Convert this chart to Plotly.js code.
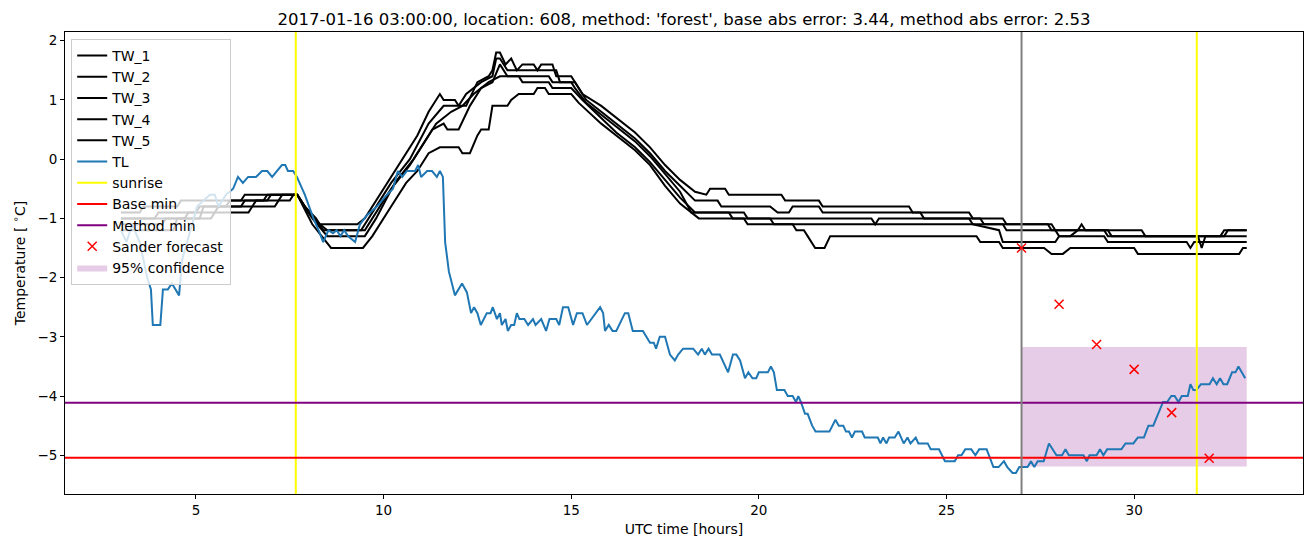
<!DOCTYPE html>
<html>
<head>
<meta charset="utf-8">
<script src="https://cdn.plot.ly/plotly-3.0.1.min.js"></script>
<style>
  html, body { margin: 0; padding: 0; background: #fff; }
  #chart { width: 1313px; height: 547px; }
</style>
</head>
<body>
<div id="chart"></div>
<script>
// TW_1 .. TW_5 sensor readings (hours, degrees C)
var tw1X = [3.0, 3.5, 3.6, 4.5, 4.6, 6.2, 6.3, 7.7, 7.9, 8.2, 8.3, 9.3, 9.5, 10.0, 10.5, 10.9, 11.2, 11.5, 11.6, 11.9, 12.0, 12.2, 12.5, 12.8, 12.9, 13.0, 13.1, 13.25, 13.4, 13.55, 13.7, 14.0, 14.1, 14.2, 14.5, 14.6, 15.0, 15.3, 15.8, 16.2, 16.7, 17.1, 17.5, 17.9, 18.3, 18.6, 18.7, 19.1, 19.2, 20.6, 20.7, 21.6, 21.7, 24.0, 24.1, 25.6, 25.7, 26.5, 26.6, 27.8, 27.9, 29.3, 29.4, 31.7, 31.8, 31.9, 32.3, 32.4, 33.0];
var tw1Y = [-0.9, -0.9, -0.8, -0.8, -0.7, -0.7, -0.6, -0.6, -0.8, -1.0, -1.1, -1.1, -1.0, -0.5, 0.0, 0.4, 0.8, 1.1, 1.0, 1.0, 0.9, 0.9, 1.3, 1.4, 1.5, 1.8, 1.8, 1.6, 1.7, 1.5, 1.6, 1.6, 1.5, 1.6, 1.6, 1.4, 1.4, 1.1, 0.9, 0.7, 0.45, 0.2, -0.1, -0.35, -0.55, -0.6, -0.5, -0.5, -0.6, -0.6, -0.7, -0.7, -0.8, -0.8, -0.9, -0.9, -1.0, -1.0, -1.1, -1.1, -1.2, -1.2, -1.3, -1.3, -1.5, -1.3, -1.3, -1.2, -1.2];

var tw2X = [3.0, 3.9, 4.0, 5.0, 5.1, 5.8, 5.9, 6.8, 6.9, 7.7, 8.0, 8.4, 9.4, 9.6, 10.2, 10.7, 11.2, 11.6, 12.0, 12.2, 12.6, 12.9, 13.0, 13.1, 13.3, 14.6, 14.7, 15.1, 15.4, 15.8, 16.2, 16.7, 17.1, 17.5, 17.9, 18.3, 18.9, 19.0, 20.3, 20.5, 20.8, 20.9, 21.6, 21.7, 24.3, 24.4, 25.9, 26.0, 26.5, 26.6, 27.9, 28.0, 28.3, 28.5, 28.6, 28.7, 30.2, 30.3, 32.4, 32.5, 33.0];
var tw2Y = [-1.0, -1.0, -0.9, -0.9, -0.8, -0.8, -0.7, -0.7, -0.6, -0.6, -0.9, -1.2, -1.2, -1.0, -0.4, 0.0, 0.6, 0.9, 0.9, 1.1, 1.3, 1.4, 1.7, 1.7, 1.5, 1.5, 1.3, 1.3, 1.0, 0.8, 0.6, 0.35, 0.1, -0.2, -0.45, -0.7, -0.7, -0.8, -0.8, -0.9, -0.9, -0.8, -0.8, -0.9, -0.9, -1.0, -1.0, -1.1, -1.1, -1.2, -1.2, -1.3, -1.3, -1.2, -1.1, -1.2, -1.2, -1.3, -1.3, -1.2, -1.2];

var tw3X = [3.0, 4.1, 4.2, 5.1, 5.2, 6.5, 6.6, 7.2, 7.3, 7.7, 8.1, 8.5, 9.5, 9.8, 10.3, 10.8, 11.3, 11.6, 11.7, 12.0, 12.3, 12.6, 12.9, 13.1, 13.3, 14.4, 14.5, 15.0, 15.1, 15.4, 15.8, 16.2, 16.7, 17.1, 17.5, 17.9, 18.2, 19.6, 19.7, 20.3, 20.4, 20.9, 21.0, 21.2, 21.3, 21.4, 21.5, 21.75, 21.9, 25.8, 25.9, 26.4, 26.5, 27.6, 27.8, 28.1, 28.3, 30.0, 30.1, 32.8, 32.9, 33.0];
var tw3Y = [-1.1, -1.1, -1.0, -1.0, -0.8, -0.8, -0.7, -0.7, -0.6, -0.6, -1.0, -1.3, -1.3, -1.0, -0.4, 0.0, 0.5, 0.6, 0.5, 0.5, 0.9, 1.2, 1.3, 1.6, 1.4, 1.4, 1.3, 1.3, 1.2, 0.95, 0.75, 0.55, 0.3, 0.05, -0.25, -0.55, -0.9, -0.9, -1.0, -1.0, -1.1, -1.1, -1.2, -1.2, -1.3, -1.4, -1.5, -1.5, -1.3, -1.3, -1.4, -1.4, -1.5, -1.5, -1.6, -1.6, -1.5, -1.5, -1.6, -1.6, -1.5, -1.5];

var tw4X = [3.0, 4.7, 4.8, 5.5, 5.6, 6.2, 6.3, 6.9, 7.0, 7.7, 8.0, 8.3, 8.5, 9.5, 9.7, 10.2, 10.7, 11.1, 11.4, 11.8, 12.1, 12.4, 12.8, 13.1, 13.6, 13.7, 14.4, 14.5, 15.0, 15.3, 15.8, 16.2, 16.7, 17.1, 17.5, 17.9, 18.3, 19.2, 19.3, 23.0, 23.1, 23.2, 25.6, 25.7, 27.7, 27.8, 29.2, 29.3, 33.0];
var tw4Y = [-1.0, -1.0, -0.9, -0.9, -0.8, -0.8, -0.7, -0.7, -0.6, -0.6, -0.9, -1.1, -1.2, -1.2, -1.0, -0.5, -0.1, 0.3, 0.6, 0.8, 0.9, 1.1, 1.3, 1.4, 1.4, 1.3, 1.3, 1.2, 1.2, 1.0, 0.7, 0.45, 0.2, -0.05, -0.35, -0.65, -0.9, -0.9, -1.0, -1.0, -1.1, -1.0, -1.0, -1.1, -1.1, -1.2, -1.2, -1.3, -1.3];

var tw5X = [3.0, 4.4, 4.5, 5.4, 5.5, 6.4, 6.5, 7.1, 7.2, 7.5, 7.6, 7.7, 8.1, 8.6, 9.45, 9.7, 10.2, 10.6, 10.9, 11.2, 11.5, 12.0, 12.1, 12.3, 12.5, 12.6, 12.8, 12.9, 13.3, 13.4, 13.6, 14.0, 14.1, 14.3, 14.4, 15.0, 15.2, 15.8, 16.2, 16.7, 17.1, 17.5, 17.9, 18.2, 18.4, 19.6, 19.7, 25.7, 26.4, 26.5, 27.9, 28.0, 29.2, 29.3, 31.4, 31.5, 31.6, 33.0];
var tw5Y = [-1.2, -1.2, -1.0, -1.0, -0.9, -0.9, -0.8, -0.8, -0.7, -0.7, -0.6, -0.6, -1.1, -1.5, -1.5, -1.3, -0.8, -0.4, -0.2, 0.1, 0.2, 0.2, 0.1, 0.1, 0.4, 0.5, 0.5, 0.9, 0.9, 1.0, 1.1, 1.1, 1.2, 1.2, 1.1, 1.1, 0.95, 0.6, 0.4, 0.15, -0.1, -0.45, -0.75, -0.9, -1.0, -1.0, -1.1, -1.1, -1.2, -1.4, -1.4, -1.3, -1.3, -1.4, -1.4, -1.5, -1.4, -1.4];

// TL (air temperature)
var tlX = [3.0, 3.15, 3.3, 3.5, 3.7, 3.8, 3.85, 4.05, 4.12, 4.25, 4.36, 4.55, 4.63, 4.8, 5.03, 5.2, 5.37, 5.5, 5.6, 5.8, 5.99, 6.12, 6.25, 6.39, 6.6, 6.76, 6.9, 7.03, 7.15, 7.29, 7.38, 7.45, 7.59, 7.69, 7.9, 8.13, 8.3, 8.39, 8.53, 8.65, 8.75, 8.85, 8.95, 9.05, 9.24, 9.37, 9.55, 9.82, 10.09, 10.25, 10.38, 10.5, 10.62, 10.84, 10.92, 11.0, 11.16, 11.29, 11.42, 11.5, 11.58, 11.64, 11.74, 11.9, 12.09, 12.22, 12.33, 12.41, 12.5, 12.59, 12.75, 12.85, 12.91, 13.02, 13.1, 13.15, 13.25, 13.31, 13.4, 13.48, 13.55, 13.62, 13.75, 13.85, 13.98, 14.05, 14.2, 14.33, 14.42, 14.6, 14.68, 14.78, 14.92, 15.05, 15.15, 15.3, 15.42, 15.77, 15.85, 15.9, 16.0, 16.1, 16.2, 16.43, 16.52, 16.64, 16.91, 17.1, 17.2, 17.26, 17.36, 17.5, 17.63, 17.76, 17.85, 17.98, 18.25, 18.38, 18.48, 18.56, 18.66, 18.75, 18.96, 19.1, 19.18, 19.31, 19.4, 19.5, 19.63, 19.72, 19.83, 19.93, 20.0, 20.24, 20.32, 20.4, 20.48, 20.68, 20.77, 20.9, 20.99, 21.05, 21.12, 21.23, 21.3, 21.42, 21.51, 21.88, 22.04, 22.13, 22.25, 22.32, 22.4, 22.48, 22.56, 22.75, 22.82, 23.17, 23.24, 23.31, 23.4, 23.47, 23.62, 23.72, 23.86, 23.96, 24.04, 24.18, 24.25, 24.5, 24.58, 24.8, 24.96, 25.22, 25.31, 25.4, 25.5, 25.66, 25.77, 25.87, 26.07, 26.25, 26.39, 26.53, 26.62, 26.76, 26.85, 26.94, 27.16, 27.25, 27.34, 27.43, 27.59, 27.73, 27.87, 27.93, 28.08, 28.17, 28.26, 28.65, 28.74, 28.81, 29.0, 29.09, 29.18, 29.28, 29.66, 29.77, 29.98, 30.1, 30.26, 30.38, 30.51, 30.77, 30.88, 30.99, 31.08, 31.18, 31.27, 31.43, 31.5, 31.58, 31.66, 31.78, 32.01, 32.1, 32.2, 32.29, 32.38, 32.48, 32.61, 32.7, 32.78, 32.87, 32.96];
var tlY = [-1.2, -1.4, -1.1, -1.4, -2.0, -2.2, -2.8, -2.8, -2.2, -2.2, -2.1, -2.3, -1.7, -1.3, -0.8, -0.7, -0.6, -0.6, -0.8, -0.6, -0.5, -0.3, -0.4, -0.3, -0.3, -0.2, -0.2, -0.3, -0.2, -0.1, -0.1, -0.2, -0.2, -0.3, -0.6, -1.0, -1.25, -1.4, -1.2, -1.25, -1.2, -1.3, -1.2, -1.3, -1.4, -1.1, -0.95, -0.8, -0.6, -0.5, -0.2, -0.3, -0.2, -0.2, -0.1, -0.3, -0.2, -0.2, -0.3, -0.2, -0.3, -1.4, -1.9, -2.3, -2.1, -2.25, -2.6, -2.5, -2.6, -2.8, -2.6, -2.6, -2.5, -2.7, -2.6, -2.8, -2.7, -2.9, -2.8, -2.8, -2.6, -2.7, -2.7, -2.8, -2.7, -2.8, -2.7, -2.9, -2.7, -2.7, -2.8, -2.5, -2.5, -2.8, -2.6, -2.6, -2.8, -2.5, -2.6, -2.9, -2.8, -2.9, -2.9, -2.6, -2.6, -2.9, -2.9, -3.1, -3.1, -3.2, -3.0, -3.0, -3.3, -3.4, -3.3, -3.2, -3.2, -3.3, -3.2, -3.3, -3.2, -3.3, -3.3, -3.5, -3.6, -3.3, -3.3, -3.4, -3.7, -3.6, -3.7, -3.7, -3.6, -3.6, -3.5, -3.6, -3.9, -3.9, -4.0, -4.0, -4.1, -4.0, -4.1, -4.3, -4.3, -4.5, -4.6, -4.6, -4.4, -4.5, -4.5, -4.6, -4.6, -4.7, -4.6, -4.6, -4.7, -4.7, -4.8, -4.7, -4.8, -4.7, -4.7, -4.6, -4.8, -4.7, -4.8, -4.7, -4.8, -4.8, -4.9, -4.9, -5.1, -5.1, -5.0, -5.0, -4.9, -4.9, -5.0, -4.9, -4.9, -5.2, -5.2, -5.1, -5.2, -5.3, -5.3, -5.2, -5.2, -5.1, -5.2, -5.1, -5.1, -4.8, -4.95, -5.0, -5.0, -4.9, -5.0, -5.0, -5.1, -5.0, -5.0, -4.9, -5.0, -4.9, -4.9, -4.8, -4.8, -4.7, -4.7, -4.5, -4.5, -4.1, -4.1, -4.0, -4.0, -4.1, -4.0, -4.0, -3.8, -3.9, -3.9, -3.8, -3.8, -3.7, -3.8, -3.7, -3.8, -3.8, -3.6, -3.6, -3.5, -3.6, -3.7];

var sunriseHours = [7.66, 31.67];
var forecastIssueHour = 27;
var baseMin = -5.04;
var methodMin = -4.115;

var sanderX = [27, 28, 29, 30, 31, 32];
var sanderY = [-1.5, -2.45, -3.13, -3.55, -4.28, -5.05];

var confX = [27, 33];
var confLow = [-5.19, -5.19];
var confHigh = [-3.17, -3.17];

var xRange = [1.51, 34.5];
var yRange = [-5.654, 2.147];

document.addEventListener('DOMContentLoaded', function() {

  var twXs = [tw1X, tw2X, tw3X, tw4X, tw5X];
  var twYs = [tw1Y, tw2Y, tw3Y, tw4Y, tw5Y];
  var data = [];

  // confidence band first so it sits under the lines
  data.push({
    x: [confX[0], confX[1], confX[1], confX[0]],
    y: [confLow[0], confLow[1], confHigh[1], confHigh[0]],
    fill: 'toself',
    fillcolor: 'rgba(128,0,128,0.2)',
    line: {width: 0},
    mode: 'lines',
    hoverinfo: 'skip',
    name: '95% confidence',
    legendrank: 11
  });

  for (var i = 0; i < 5; i++) {
    data.push({
      x: twXs[i],
      y: twYs[i],
      mode: 'lines',
      line: {color: 'black', width: 2},
      name: 'TW_' + (i + 1),
      legendrank: i + 1
    });
  }

  data.push({
    x: tlX, y: tlY, mode: 'lines',
    line: {color: '#1f77b4', width: 2},
    name: 'TL', legendrank: 6
  });

  var sx = [], sy = [];
  sunriseHours.forEach(function(h) {
    sx.push(h, h, null);
    sy.push(yRange[0], yRange[1], null);
  });
  data.push({
    x: sx, y: sy, mode: 'lines',
    line: {color: 'yellow', width: 2},
    name: 'sunrise', legendrank: 7
  });

  data.push({
    x: xRange, y: [baseMin, baseMin], mode: 'lines',
    line: {color: 'red', width: 2},
    name: 'Base min', legendrank: 8
  });
  data.push({
    x: xRange, y: [methodMin, methodMin], mode: 'lines',
    line: {color: 'purple', width: 2},
    name: 'Method min', legendrank: 9
  });

  data.push({
    x: [forecastIssueHour, forecastIssueHour], y: yRange, mode: 'lines',
    line: {color: 'grey', width: 2},
    showlegend: false
  });

  data.push({
    x: sanderX, y: sanderY, mode: 'markers',
    marker: {symbol: 'x-thin', size: 9, color: 'red', line: {color: 'red', width: 1.5}},
    name: 'Sander forecast', legendrank: 10
  });

  var axisStyle = {
    showline: true, mirror: true, linecolor: 'black', linewidth: 1,
    ticks: 'outside', ticklen: 4, tickcolor: 'black', tickwidth: 1,
    showgrid: false, zeroline: false,
    tickfont: {size: 13.5, color: 'black'}
  };

  var layout = {
    width: 1313, height: 547,
    margin: {l: 65, r: 10, t: 32, b: 53},
    paper_bgcolor: 'white', plot_bgcolor: 'white',
    font: {family: 'DejaVu Sans', color: 'black'},
    title: {
      text: "2017-01-16 03:00:00, location: 608, method: 'forest', base abs error: 3.44, method abs error: 2.53",
      font: {size: 16.5, color: 'black'},
      x: 0.5, xref: 'paper', y: 0.965, yref: 'container', yanchor: 'middle'
    },
    xaxis: Object.assign({}, axisStyle, {
      range: xRange,
      tickvals: [5, 10, 15, 20, 25, 30],
      title: {text: 'UTC time [hours]', font: {size: 14}, standoff: 6}
    }),
    yaxis: Object.assign({}, axisStyle, {
      range: yRange,
      tickvals: [-5, -4, -3, -2, -1, 0, 1, 2],
      ticktext: ['\u22125', '\u22124', '\u22123', '\u22122', '\u22121', '0', '1', '2'],
      title: {text: 'Temperature [ <sup>\u2218</sup>C]', font: {size: 14}, standoff: 8}
    }),
    legend: {
      x: 0.005, y: 0.985, xanchor: 'left', yanchor: 'top',
      bgcolor: 'rgba(255,255,255,0.8)', bordercolor: '#cccccc', borderwidth: 1,
      font: {size: 14}, tracegroupgap: 0
    },
    showlegend: true
  };

  Plotly.newPlot('chart', data, layout, {staticPlot: true});
});
</script>
</body>
</html>
